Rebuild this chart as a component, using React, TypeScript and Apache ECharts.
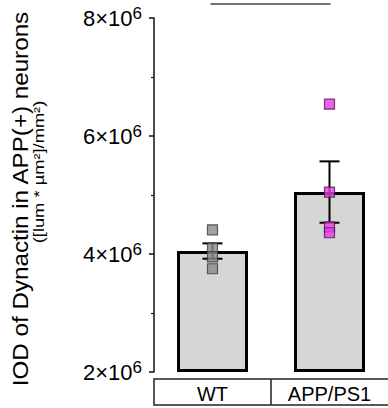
import React, { useEffect, useRef } from "react";
import * as echarts from "echarts";

const categories = ["WT", "APP/PS1"];
const means = [4.05e6, 5.05e6];
const sems = [0.13e6, 0.52e6];
const wtPoints = [4.41e6, 4.1e6, 3.95e6, 3.75e6];
const appPoints = [6.54e6, 5.05e6, 4.46e6, 4.36e6];
const yMin = 2e6;
const yMax = 8e6;
const yInterval = 2e6;
const titleMain = "IOD of Dynactin in APP(+) neurons";
const titleUnit = "([lum * µm²]/mm²)";

const FONT = "'Liberation Sans', Arial, Helvetica, sans-serif";

export default function App() {
  const ref = useRef<HTMLDivElement>(null);
  useEffect(() => {
    if (!ref.current) return;
    const chart = echarts.init(ref.current, undefined, { renderer: "svg" });
    const gridLeft = 154;
    const gridTop = 18;
    const gridBottom = 36;
    chart.setOption({
      animation: false,
      backgroundColor: "#ffffff",
      grid: { left: gridLeft, right: 0, top: gridTop, bottom: gridBottom },
      xAxis: {
        type: "category",
        data: categories,
        axisLine: { show: false },
        axisTick: { show: false },
        axisLabel: {
          margin: 12,
          fontSize: 20,
          color: "#000",
          fontFamily: FONT,
        },
      },
      yAxis: {
        type: "value",
        min: yMin,
        max: yMax,
        interval: yInterval,
        splitLine: { show: false },
        axisLine: { show: true, lineStyle: { color: "#111", width: 1.5 } },
        axisTick: { show: true, length: 5, lineStyle: { color: "#111", width: 1.5 } },
        minorTick: { show: true, splitNumber: 2, length: 3, lineStyle: { color: "#111", width: 1.2 } },
        axisLabel: {
          margin: 12,
          formatter: (v: number) => `{a|${v / 1e6}×10}{b|6}`,
          rich: {
            a: { fontSize: 22, lineHeight: 26, color: "#000", fontFamily: FONT },
            b: { fontSize: 17, lineHeight: 10, verticalAlign: "top", color: "#000", fontFamily: FONT },
          },
        },
      },
      series: [
        {
          type: "bar",
          stack: "bars",
          barWidth: 71,
          silent: true,
          data: categories.map(() => yMin),
          itemStyle: { color: "rgba(0,0,0,0)" },
        },
        {
          type: "bar",
          stack: "bars",
          barWidth: 71,
          clip: false,
          data: means.map((m) => m - yMin),
          itemStyle: { color: "#d6d6d6", borderColor: "#000", borderWidth: 3 },
        },
        {
          type: "custom",
          z: 3,
          data: categories.map((c, i) => [i, means[i] - sems[i], means[i] + sems[i]]),
          encode: { x: 0, y: [1, 2] },
          renderItem: (params: any, api: any) => {
            const lo = api.coord([api.value(0), api.value(1)]);
            const hi = api.coord([api.value(0), api.value(2)]);
            const hw = 10;
            const style = { stroke: "#000", lineWidth: 2 };
            return {
              type: "group",
              children: [
                { type: "line", shape: { x1: lo[0], y1: lo[1], x2: hi[0], y2: hi[1] }, style },
                { type: "line", shape: { x1: hi[0] - hw, y1: hi[1], x2: hi[0] + hw, y2: hi[1] }, style },
                { type: "line", shape: { x1: lo[0] - hw, y1: lo[1], x2: lo[0] + hw, y2: lo[1] }, style },
              ],
            };
          },
        },
        {
          type: "scatter",
          z: 4,
          symbol: "rect",
          symbolSize: 10,
          data: wtPoints.map((v) => [categories[0], v]),
          itemStyle: { color: "#8a8a8a", borderColor: "#3a3a3a", borderWidth: 1.2 },
        },
        {
          type: "scatter",
          z: 4,
          symbol: "rect",
          symbolSize: 10,
          data: appPoints.map((v) => [categories[1], v]),
          itemStyle: { color: "#e63ce6", borderColor: "#4a1a4a", borderWidth: 1.2 },
        },
      ],
    });

    const p0 = chart.convertToPixel({ gridIndex: 0 }, [0, yMax]) as number[];
    const p1 = chart.convertToPixel({ gridIndex: 0 }, [1, yMax]) as number[];
    const pb = chart.convertToPixel({ gridIndex: 0 }, [0, yMin]) as number[];
    const sigY = p0[1] - 14;
    const boxTop = pb[1] + 7;
    const boxBottom = 405;
    const mid = (p0[0] + p1[0]) / 2;

    chart.setOption({
      graphic: [
        {
          type: "line",
          shape: { x1: p0[0] - 2, y1: sigY, x2: p1[0] + 1, y2: sigY },
          style: { stroke: "#444", lineWidth: 1.5 },
        },
        {
          type: "rect",
          shape: { x: gridLeft, y: boxTop, width: 388 - gridLeft + 4, height: boxBottom - boxTop },
          style: { fill: "none", stroke: "#222", lineWidth: 1.5 },
        },
        {
          type: "line",
          shape: { x1: mid, y1: boxTop, x2: mid, y2: boxBottom },
          style: { stroke: "#222", lineWidth: 1.5 },
        },
        {
          type: "text",
          x: 20,
          y: 199,
          rotation: Math.PI / 2,
          scaleX: 1.1,
          style: {
            text: titleMain,
            fontSize: 22,
            fontFamily: FONT,
            fill: "#000",
            align: "center",
            verticalAlign: "middle",
          },
        },
        {
          type: "text",
          x: 39,
          y: 172,
          rotation: Math.PI / 2,
          scaleX: 1.22,
          style: {
            text: titleUnit,
            fontSize: 15,
            fontFamily: FONT,
            fill: "#000",
            align: "center",
            verticalAlign: "middle",
          },
        },
      ],
    });

    return () => chart.dispose();
  }, []);
  return (
    <div
      ref={ref}
      style={{ position: "fixed", left: 0, top: 0, width: 388, height: 408, background: "#fff" }}
    />
  );
}
